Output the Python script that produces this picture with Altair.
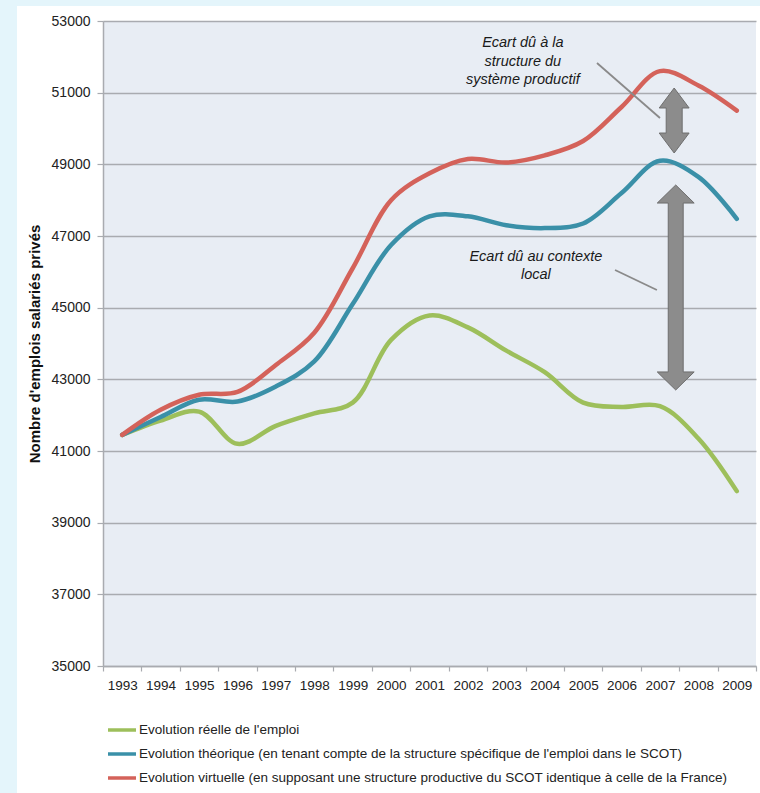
import altair as alt
import pandas as pd

# ---------------- data ----------------
years = list(range(1993, 2010))
reelle = [41450, 41850, 42100, 41200, 41700, 42050, 42350, 44100, 44780,
          44450, 43800, 43200, 42350, 42230, 42250, 41350, 39880]
theorique = [41450, 41950, 42430, 42380, 42800, 43500, 45100, 46750, 47550,
             47550, 47300, 47220, 47350, 48200, 49100, 48650, 47480]
virtuelle = [41450, 42150, 42570, 42650, 43400, 44300, 46100, 48000, 48750,
             49150, 49050, 49250, 49650, 50600, 51600, 51200, 50500]

series_labels = [
    "Evolution réelle de l'emploi",
    "Evolution théorique (en tenant compte de la structure spécifique de l'emploi dans le SCOT)",
    "Evolution virtuelle (en supposant une structure productive du SCOT identique à celle de la France)",
]
series_values = [reelle, theorique, virtuelle]
series_colors = ["#9dbf5b", "#3a90a8", "#d4625a"]

y_ticks = list(range(35000, 53001, 2000))
x_tick_bounds = [y + 0.5 for y in range(1992, 2010)]

# annotations (in data coordinates)
note_lines = ["Ecart dû à la", "structure du", "système productif",
              "Ecart dû au contexte", "local"]
note_x = [2003.43, 2003.43, 2003.43, 2003.77, 2003.77]
note_y = [52386, 51856, 51353, 46414, 45912]

leader_x = [2005.36, 2005.83]
leader_x2 = [2007.00, 2006.92]
leader_y = [51828, 46051]
leader_y2 = [50293, 45493]

arrow_x = [2007.37, 2007.41]
arrow_y = [50223, 45563]

# ---------------- tables ----------------
rows = []
for lab, vals in zip(series_labels, series_values):
    for yr, v in zip(years, vals):
        rows.append({"annee": yr, "emplois": v, "serie": lab})
df = pd.DataFrame(rows)

notes = pd.DataFrame({"texte": note_lines, "annee": note_x, "emplois": note_y})
leaders = pd.DataFrame({"annee": leader_x, "annee2": leader_x2,
                        "emplois": leader_y, "emplois2": leader_y2})
arrows = pd.DataFrame({"annee": arrow_x, "emplois": arrow_y})

# ---------------- styling ----------------
FONT = "Liberation Sans"
GRID = "#a9abb0"
W, H = 653, 645

xscale = alt.Scale(domain=[1992.5, 2009.5], nice=False, zero=False)
yscale = alt.Scale(domain=[35000, 53000], nice=False, zero=False)

xaxis = alt.Axis(
    values=x_tick_bounds, title=None, grid=False,
    labelExpr="datum.value < 2009 ? toString(datum.value + 0.5) : ''",
    labelOffset=19.2, labelFlush=False, labelOverlap=False, labelBound=False,
    tickSize=5, tickColor=GRID, tickWidth=1.2, domainColor=GRID, domainWidth=1.5,
    labelPadding=7, labelFontSize=13.5, labelColor="#222222", labelFont=FONT,
)
yaxis = alt.Axis(
    values=y_ticks, format="d", title="Nombre d'emplois salariés privés",
    grid=True, gridColor=GRID, gridWidth=1.5,
    tickSize=6, tickColor=GRID, tickWidth=1.2, domainColor=GRID, domainWidth=1.5,
    labelPadding=7, labelFontSize=14, labelColor="#222222", labelFont=FONT,
    titleFont=FONT, titleFontSize=15, titleFontWeight="bold",
    titleColor="#111111", titlePadding=9,
)


def X(field):
    return alt.X(field, type="quantitative", scale=xscale, axis=xaxis)


def Y(field):
    return alt.Y(field, type="quantitative", scale=yscale, axis=yaxis)


one = pd.DataFrame({"k": [0]})

# cyan frame strips outside the white panel
strip_left = alt.Chart(one).mark_rect(color="#e4f5fb").encode(
    x=alt.value(-103), x2=alt.value(-86), y=alt.value(-21), y2=alt.value(H + 127))
strip_top = alt.Chart(one).mark_rect(color="#e4f5fb").encode(
    x=alt.value(-103), x2=alt.value(W + 4), y=alt.value(-21), y2=alt.value(-15))

lines = alt.Chart(df).mark_line(
    interpolate="catmull-rom", strokeWidth=4.5, strokeCap="round", strokeJoin="round"
).encode(
    x=X("annee"),
    y=Y("emplois"),
    color=alt.Color(
        "serie:N",
        scale=alt.Scale(domain=series_labels, range=series_colors),
        legend=alt.Legend(
            title=None, orient="none", legendX=3, legendY=693, direction="vertical",
            symbolType="stroke", symbolSize=784, symbolStrokeWidth=3.5,
            labelFont=FONT, labelFontSize=13.5, labelColor="#222222",
            labelLimit=800, labelOffset=1, rowPadding=1,
        ),
    ),
    detail="serie:N",
)

leader_rules = alt.Chart(leaders).mark_rule(color="#8a8a8a", strokeWidth=1.8).encode(
    x=X("annee"), x2="annee2", y=Y("emplois"), y2="emplois2")

top_arrow_path = ("M0,-1L0.46,-0.385L0.246,-0.385L0.246,0.385L0.46,0.385L0,1"
                  "L-0.46,0.385L-0.246,0.385L-0.246,-0.385L-0.46,-0.385Z")
bot_arrow_path = ("M0,-1L0.18,-0.824L0.073,-0.824L0.073,0.824L0.18,0.824L0,1"
                  "L-0.18,0.824L-0.073,0.824L-0.073,-0.824L-0.18,-0.824Z")

arrow_top = alt.Chart(arrows.iloc[[0]]).mark_point(
    shape=top_arrow_path, size=65 ** 2, filled=True, fill="#8c8c8c",
    stroke="#6e6e6e", strokeWidth=1, opacity=1
).encode(x=X("annee"), y=Y("emplois"))

arrow_bot = alt.Chart(arrows.iloc[[1]]).mark_point(
    shape=bot_arrow_path, size=205 ** 2, filled=True, fill="#8c8c8c",
    stroke="#6e6e6e", strokeWidth=1, opacity=1
).encode(x=X("annee"), y=Y("emplois"))

texts = alt.Chart(notes).mark_text(
    font=FONT, fontSize=14.5, fontStyle="italic", color="#1a1a1a",
    align="center", baseline="middle"
).encode(x=X("annee"), y=Y("emplois"), text="texte:N")

chart = alt.layer(
    strip_left, strip_top, lines, leader_rules, arrow_top, arrow_bot, texts
).properties(
    width=W, height=H,
    autosize=alt.AutoSizeParams(type="none"),
    padding={"left": 103, "top": 21, "right": 4, "bottom": 127},
    background="white",
).configure(
    font=FONT
).configure_view(
    fill="#e8edf4", strokeWidth=0
)

chart.save("out.html", embed_options={"renderer": "svg", "actions": False})
